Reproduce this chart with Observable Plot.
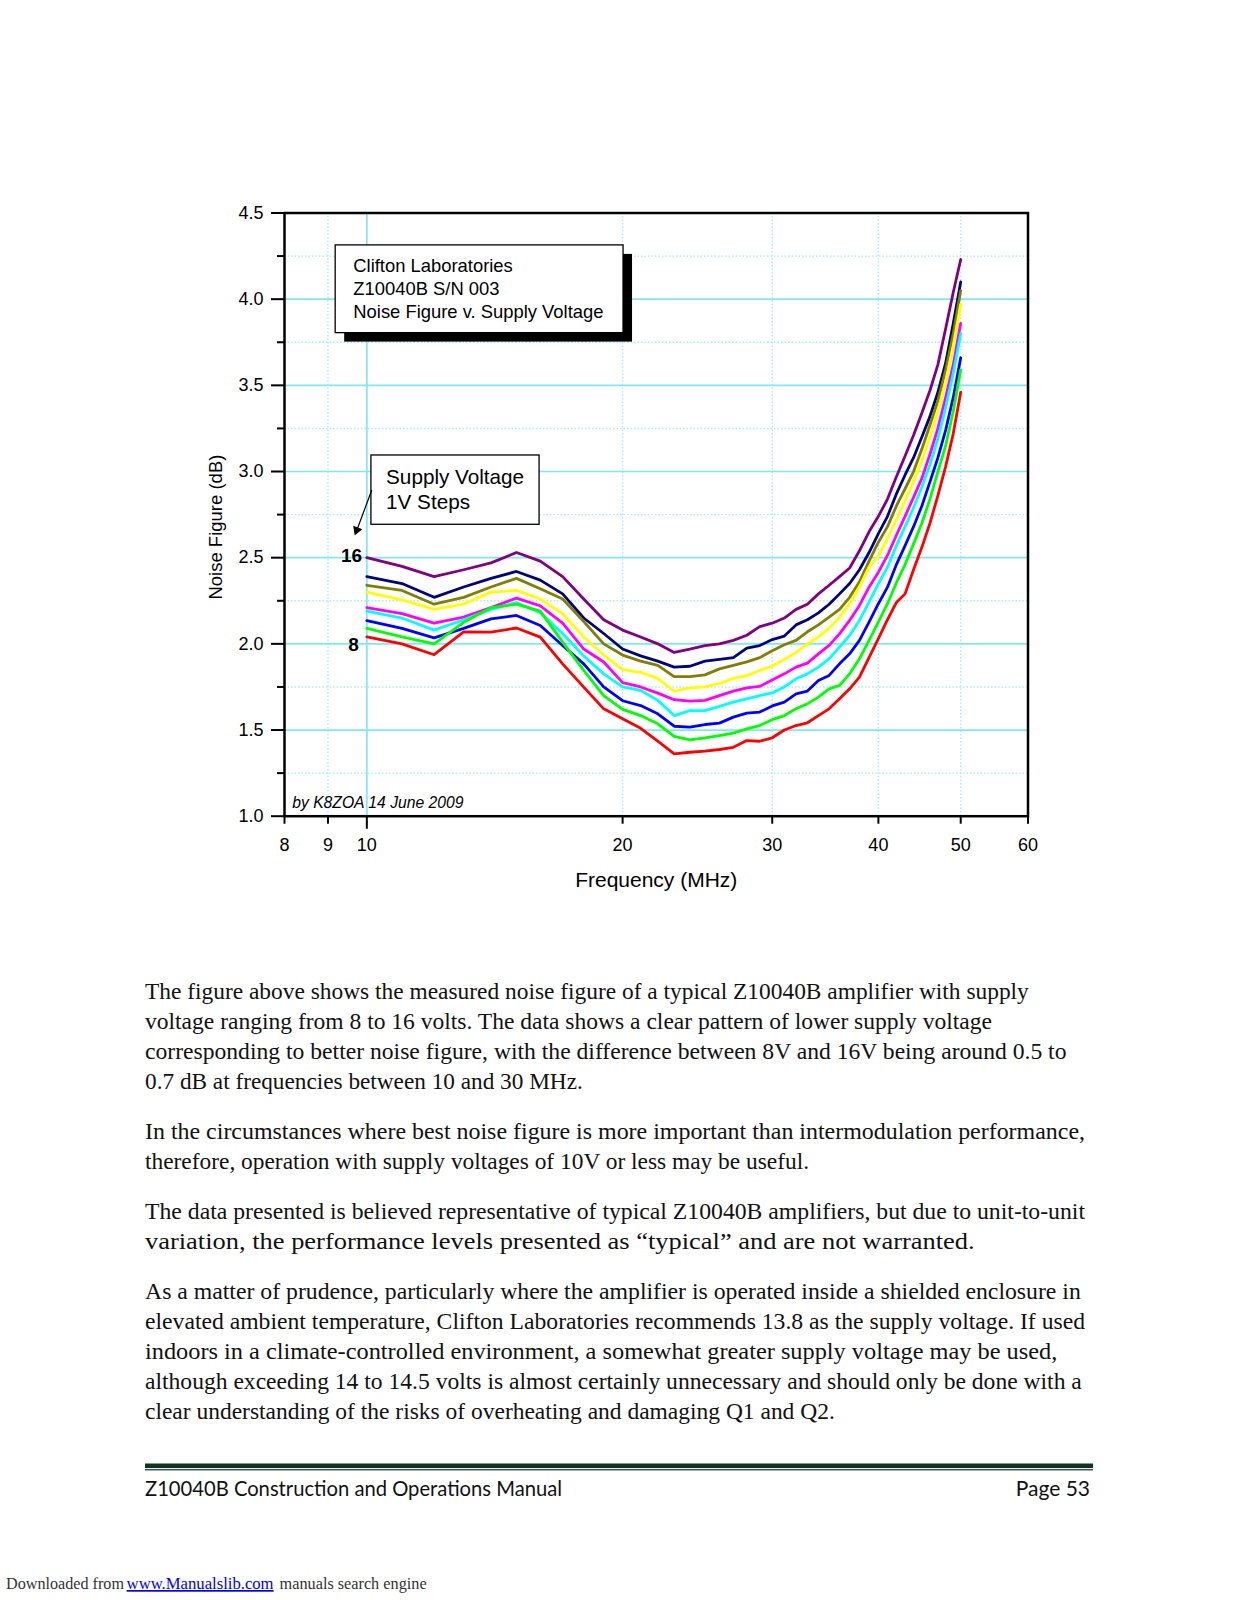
<!DOCTYPE html>
<html><head><meta charset="utf-8">
<script src="https://cdn.jsdelivr.net/npm/d3@7"></script>
<script src="https://cdn.jsdelivr.net/npm/@observablehq/plot@0.6"></script>
<style>
html,body{margin:0;padding:0;background:#fff;}
#page{position:relative;width:1237px;height:1600px;overflow:hidden;background:#fff;}
#chart{position:absolute;left:0;top:0;width:1237px;}
#text{position:absolute;left:0;top:0;}
</style></head>
<body><div id="page"><div id="chart"></div><svg id="text" width="1237" height="1600"></svg></div>
<script>
// ---------- data ----------
const freqs = [10,11,12,13,14,15,16,17,18,19,20,21,22,23,24,25,26,27,28,29,30,31,32,33,34,35,36,37,38,39,40,41,42,43,44,45,46,47,48,49,50];
const nf16 = [2.50,2.45,2.39,2.43,2.47,2.53,2.48,2.39,2.26,2.14,2.08, 2.04,2.00,1.95,1.97,1.99,2.00,2.02,2.05,2.10,2.12, 2.15,2.20,2.23,2.29,2.34,2.39,2.44,2.54,2.65,2.74, 2.84,2.97,3.09,3.21,3.34,3.47,3.62,3.83,4.04,4.23];
const nf15 = [2.39,2.35,2.27,2.33,2.38,2.42,2.37,2.29,2.15,2.06,1.97, 1.93,1.90,1.865,1.87,1.90,1.91,1.92,1.975,1.99,2.025, 2.045,2.11,2.14,2.18,2.23,2.29,2.35,2.43,2.53,2.64, 2.74,2.87,2.98,3.08,3.20,3.32,3.46,3.63,3.86,4.10];
const nf14 = [2.34,2.31,2.23,2.27,2.33,2.38,2.32,2.26,2.13,2.00,1.935, 1.90,1.875,1.81,1.81,1.82,1.855,1.875,1.895,1.92,1.96, 1.995,2.02,2.07,2.11,2.155,2.20,2.27,2.36,2.48,2.59, 2.68,2.80,2.90,3.00,3.13,3.27,3.41,3.59,3.80,4.05];
const nf13 = [2.30,2.255,2.20,2.23,2.30,2.31,2.26,2.175,2.04,1.935,1.85, 1.835,1.80,1.725,1.745,1.75,1.77,1.80,1.815,1.845,1.87, 1.91,1.95,2.00,2.04,2.09,2.155,2.23,2.33,2.445,2.51, 2.61,2.72,2.83,2.94,3.06,3.20,3.35,3.52,3.73,3.97];
const nf12 = [2.21,2.175,2.12,2.155,2.21,2.265,2.22,2.12,1.97,1.895,1.775, 1.75,1.714,1.676,1.668,1.672,1.70,1.726,1.745,1.753,1.79, 1.826,1.865,1.888,1.942,1.991,2.058,2.136,2.223,2.329,2.416, 2.513,2.63,2.74,2.85,2.96,3.10,3.25,3.43,3.62,3.86];
const nf11 = [2.19,2.15,2.08,2.14,2.20,2.24,2.18,2.06,1.93,1.826,1.75, 1.73,1.672,1.584,1.613,1.613,1.637,1.662,1.681,1.70,1.715, 1.75,1.797,1.826,1.865,1.913,1.981,2.049,2.136,2.242,2.349, 2.445,2.57,2.68,2.79,2.91,3.04,3.19,3.37,3.57,3.80];
const nf10 = [2.135,2.09,2.035,2.09,2.145,2.165,2.107,1.99,1.884,1.75,1.67, 1.642,1.594,1.522,1.517,1.532,1.54,1.575,1.598,1.604,1.64, 1.662,1.71,1.726,1.788,1.817,1.884,1.942,2.02,2.126,2.233, 2.329,2.46,2.57,2.68,2.80,2.94,3.08,3.24,3.43,3.66];
const nf9  = [2.09,2.04,2.00,2.125,2.21,2.23,2.19,2.01,1.846,1.70,1.62, 1.584,1.536,1.463,1.443,1.455,1.468,1.482,1.507,1.526,1.56, 1.584,1.623,1.652,1.691,1.739,1.759,1.826,1.913,2.02,2.126, 2.233,2.355,2.46,2.58,2.70,2.84,3.00,3.15,3.35,3.59];
const nf8  = [2.04,2.00,1.937,2.07,2.068,2.092,2.039,1.884,1.749,1.623,1.565, 1.51,1.435,1.362,1.371,1.377,1.387,1.40,1.439,1.435,1.455, 1.50,1.526,1.542,1.584,1.623,1.681,1.739,1.807,1.92,2.03, 2.14,2.24,2.29,2.43,2.56,2.70,2.86,3.03,3.22,3.46];

const voltages = [16,15,14,13,12,11,10,9,8];
const seriesValues = [nf16,nf15,nf14,nf13,nf12,nf11,nf10,nf9,nf8];
const seriesColors = ["#800080","#000080","#808000","#FFFF00","#FF00FF","#00FFFF","#0000FF","#00FF00","#FF0000"];

const xTickMinor = [8,9,20,30,40,50,60];
const xTickMajor = [10];
const xGridDotted = [9,20,30,40,50];
const xGridSolid = [10];
const yTickMajor = [1.0,1.5,2.0,2.5,3.0,3.5,4.0,4.5];
const yTickMinor = [1.25,1.75,2.25,2.75,3.25,3.75,4.25];
const yGridSolid = [1.5,2.0,2.5,3.0,3.5,4.0];

const titleBox = [{x1: 9.19, x2: 20.05, y1: 3.803, y2: 4.312, tx: 9.64, ty: 4.25,
  label: "Clifton Laboratories\nZ10040B S/N 003\nNoise Figure v. Supply Voltage"}];
const stepBox = [{x1: 10.125, x2: 15.97, y1: 2.691, y2: 3.093, tx: 10.535, ty: 3.035,
  label: "Supply Voltage\n1V Steps"}];
const arrowData = [{x1: 10.13, y1: 2.89, x2: 9.70, y2: 2.64}];
const arrowTip = [{x: 9.73, y: 2.66}];
const label16 = [{f: 10, v: 2.474, t: "16"}];
const label8 = [{f: 10, v: 1.958, t: "8"}];

// long table
const rows = [];
voltages.forEach((v, i) => {
  seriesValues[i].forEach((nf, j) => rows.push({volt: v, f: freqs[j], nf}));
});

const gridCol = "#7FE8F0";
const gridDot = "#A6F0F4";

const plot = Plot.plot({
  width: 1237,
  height: 920,
  marginLeft: 284,
  marginRight: 209.5,
  marginTop: 212.5,
  marginBottom: 104.3,
  style: {background: "transparent", color: "black", fontFamily: "'Liberation Sans', Arial, sans-serif", fontSize: "18px", overflow: "visible"},
  x: {type: "log", domain: [8, 60]},
  y: {domain: [1, 4.5]},
  color: {type: "ordinal", domain: voltages, range: seriesColors},
  marks: [
    Plot.gridY(yTickMinor, {stroke: gridDot, strokeOpacity: 1, strokeWidth: 1.4, strokeDasharray: "1.5,2"}),
    Plot.gridX(xGridDotted, {stroke: gridDot, strokeOpacity: 1, strokeWidth: 1.4, strokeDasharray: "1.5,2"}),
    Plot.gridY(yGridSolid, {stroke: gridCol, strokeOpacity: 1, strokeWidth: 1.7}),
    Plot.gridX(xGridSolid, {stroke: gridCol, strokeOpacity: 1, strokeWidth: 1.7}),
    Plot.line(rows, {x: "f", y: "nf", z: "volt", stroke: "volt", strokeWidth: 2.8, strokeLinejoin: "round"}),
    // annotation boxes
    Plot.rect(titleBox, {x1: "x1", x2: "x2", y1: "y1", y2: "y2", fill: "black", dx: 9, dy: 9}),
    Plot.rect(titleBox, {x1: "x1", x2: "x2", y1: "y1", y2: "y2", fill: "white", stroke: "black", strokeWidth: 1.3}),
    Plot.text(titleBox, {x: "tx", y: "ty", text: "label", textAnchor: "start", lineAnchor: "top", lineHeight: 1.234, fontSize: 18.4}),
    Plot.rect(stepBox, {x1: "x1", x2: "x2", y1: "y1", y2: "y2", fill: "white", stroke: "black", strokeWidth: 1.3}),
    Plot.text(stepBox, {x: "tx", y: "ty", text: "label", textAnchor: "start", lineAnchor: "top", lineHeight: 1.24, fontSize: 20.7}),
    Plot.arrow(arrowData, {x1: "x1", y1: "y1", x2: "x2", y2: "y2", stroke: "black", strokeWidth: 1.2, headLength: 8}),
    Plot.dot(arrowTip, {x: "x", y: "y", symbol: "triangle", r: 3.6, fill: "black", stroke: "none", rotate: 201}),
    Plot.text(label16, {x: "f", y: "v", text: "t", dx: -4.7, textAnchor: "end", lineAnchor: "bottom", fontWeight: "bold", fontSize: 19}),
    Plot.text(label8, {x: "f", y: "v", text: "t", dx: -8, textAnchor: "end", lineAnchor: "bottom", fontWeight: "bold", fontSize: 19}),
    Plot.text(["by K8ZOA 14 June 2009"], {frameAnchor: "bottom-left", text: d => d, dx: 7.7, dy: -8.4, textAnchor: "start", lineAnchor: "bottom", fontStyle: "italic", fontSize: 15.7}),
    Plot.frame({stroke: "black", strokeWidth: 2.5}),
    // axes
    Plot.axisX(xTickMinor, {anchor: "bottom", tickSize: 8, tickPadding: 14.5, tickFormat: d => String(d), strokeWidth: 2, fontSize: 18, label: null}),
    Plot.axisX(xTickMajor, {anchor: "bottom", tickSize: 13, tickPadding: 9.5, tickFormat: d => String(d), strokeWidth: 2, fontSize: 18, label: null}),
    Plot.axisY(yTickMajor, {anchor: "left", tickSize: 13, tickPadding: 8, tickFormat: d => d.toFixed(1), strokeWidth: 2, fontSize: 18, label: null}),
    Plot.axisY(yTickMinor, {anchor: "left", tickSize: 7, tickFormat: () => "", strokeWidth: 2, label: null}),
    Plot.text(["Frequency (MHz)"], {frameAnchor: "bottom", text: d => d, dy: 71, textAnchor: "middle", lineAnchor: "bottom", fontSize: 21}),
    Plot.text(["Noise Figure (dB)"], {frameAnchor: "left", text: d => d, rotate: -90, dx: -68.6, dy: 12.5, textAnchor: "middle", lineAnchor: "middle", fontSize: 18.5})
  ]
});
document.getElementById("chart").appendChild(plot);

// ---------- page text ----------
const paragraphs = [
  ["The figure above shows the measured noise figure of a typical Z10040B amplifier with supply", 998.5, 883.8],
  ["voltage ranging from 8 to 16 volts. The data shows a clear pattern of lower supply voltage", 1028.5, 847],
  ["corresponding to better noise figure, with the difference between 8V and 16V being around 0.5 to", 1058.5, 921.5],
  ["0.7 dB at frequencies between 10 and 30 MHz.", 1088.5, 437.8],
  ["In the circumstances where best noise figure is more important than intermodulation performance,", 1138.5, 940],
  ["therefore, operation with supply voltages of 10V or less may be useful.", 1168.5, 664],
  ["The data presented is believed representative of typical Z10040B amplifiers, but due to unit-to-unit", 1218.5, 940],
  ["variation, the performance levels presented as \u201ctypical\u201d and are not warranted.", 1248.5, 829.7],
  ["As a matter of prudence, particularly where the amplifier is operated inside a shielded enclosure in", 1298.5, 935.8],
  ["elevated ambient temperature, Clifton Laboratories recommends 13.8 as the supply voltage. If used", 1328.5, 940],
  ["indoors in a climate-controlled environment, a somewhat greater supply voltage may be used,", 1358.5, 912.3],
  ["although exceeding 14 to 14.5 volts is almost certainly unnecessary and should only be done with a", 1388.5, 936.8],
  ["clear understanding of the risks of overheating and damaging Q1 and Q2.", 1418.5, 689.8]
];
const svg = d3.select("#text");
svg.selectAll("text.para").data(paragraphs).join("text")
  .attr("class", "para")
  .attr("x", 145).attr("y", d => d[1])
  .attr("textLength", d => d[2]).attr("lengthAdjust", "spacingAndGlyphs")
  .style("font-family", "'Liberation Serif', 'Times New Roman', serif")
  .style("font-size", "24px").style("fill", "#111")
  .text(d => d[0]);

svg.append("rect").attr("x", 145).attr("y", 1463.5).attr("width", 948).attr("height", 4.6).attr("fill", "#123321");
svg.append("rect").attr("x", 145).attr("y", 1469.2).attr("width", 948).attr("height", 1.2).attr("fill", "#123321");

svg.append("text").attr("x", 145).attr("y", 1495.5).attr("textLength", 417).attr("lengthAdjust", "spacingAndGlyphs")
  .style("font-family", "Lato, 'Open Sans', sans-serif").style("font-size", "21px").style("fill", "#111")
  .text("Z10040B Construction and Operations Manual");
svg.append("text").attr("x", 1090).attr("y", 1495.5).attr("text-anchor", "end")
  .style("font-family", "Lato, 'Open Sans', sans-serif").style("font-size", "21px").style("fill", "#111")
  .text("Page 53");

const dl = [
  ["Downloaded from", 6, 118, "#333", false],
  ["www.Manualslib.com", 126.6, 147, "#0000EE", true],
  ["manuals search engine", 279.6, 147, "#333", false]
];
svg.selectAll("text.dl").data(dl).join("text")
  .attr("class", "dl")
  .attr("x", d => d[1]).attr("y", 1589)
  .attr("textLength", d => d[2]).attr("lengthAdjust", "spacingAndGlyphs")
  .style("font-family", "'Liberation Serif', serif").style("font-size", "17px")
  .style("fill", d => d[3]).style("text-decoration", d => d[4] ? "underline" : "none")
  .text(d => d[0]);
</script>
</body></html>
